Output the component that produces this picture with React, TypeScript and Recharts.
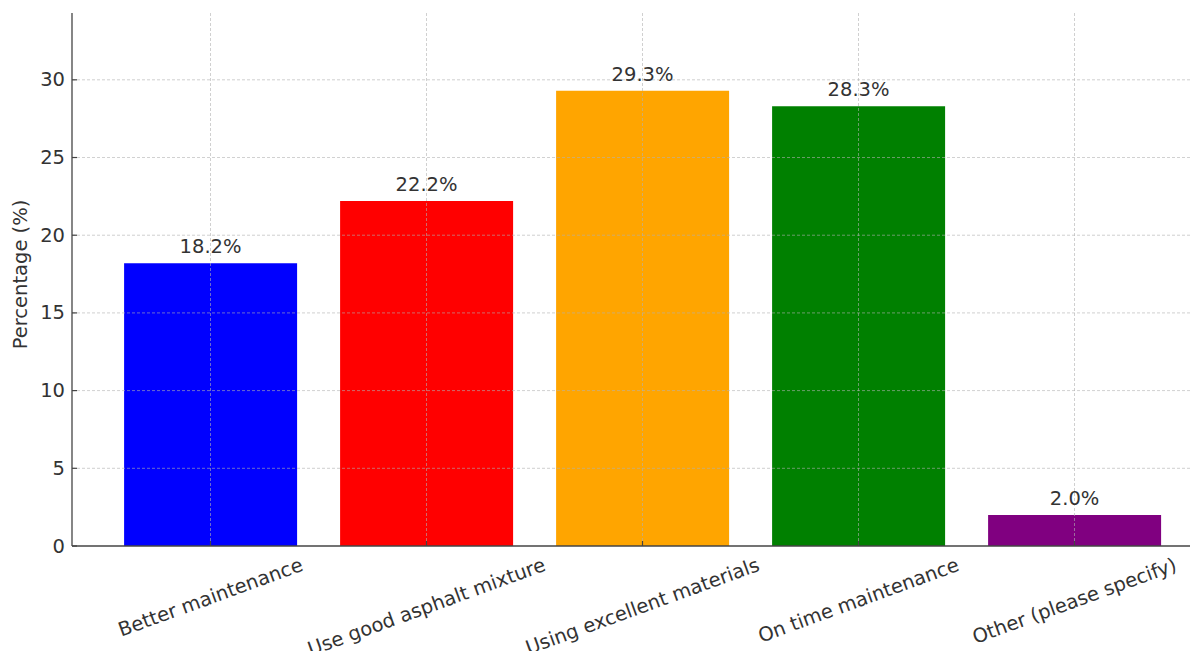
import React from 'react';
import { BarChart, Bar, XAxis, YAxis, Cell, LabelList, ReferenceLine } from 'recharts';

const categories = [
  'Better maintenance',
  'Use good asphalt mixture',
  'Using excellent materials',
  'On time maintenance',
  'Other (please specify)',
];
const percentages = [18.2, 22.2, 29.3, 28.3, 2.0];
const barColors = ['#0000ff', '#ff0000', '#ffa500', '#008000', '#800080'];
const yTicks = [0, 5, 10, 15, 20, 25, 30];
const yMax = 34.3;

const data = categories.map((c, i) => ({ category: c, value: percentages[i] }));

const FONT = 19.5;
const FAMILY = '"DejaVu Sans", sans-serif';
const TEXT = '#333333';
const SPINE = '#444444';
const GRID = '#b0b0b0';

let ctx: CanvasRenderingContext2D | null = null;
function measure(t: string): number {
  if (!ctx) ctx = document.createElement('canvas').getContext('2d');
  if (!ctx) return t.length * FONT * 0.6;
  ctx.font = `${FONT}px "DejaVu Sans"`;
  return ctx.measureText(t).width;
}

const ANG = (20 * Math.PI) / 180;

const XTick = (props: any) => {
  const { x, y, payload } = props;
  const w = measure(String(payload.value));
  const h = FONT * 1.1;
  const H = w * Math.sin(ANG) + h * Math.cos(ANG);
  const cy = y + 8 + H / 2;
  return (
    <g>
      <line x1={x} x2={x} y1={y} y2={y - 5} stroke={SPINE} strokeWidth={1.2} />
      <text
        x={x}
        y={cy}
        textAnchor="middle"
        dominantBaseline="central"
        transform={`rotate(-20 ${x} ${cy})`}
        fill={TEXT}
        fontSize={FONT}
        fontFamily={FAMILY}
      >
        {payload.value}
      </text>
    </g>
  );
};

const YTick = (props: any) => {
  const { x, y, payload } = props;
  return (
    <g>
      <line x1={x} x2={x + 5} y1={y} y2={y} stroke={SPINE} strokeWidth={1.2} />
      <text
        x={x - 7}
        y={y}
        textAnchor="end"
        dominantBaseline="central"
        fill={TEXT}
        fontSize={FONT}
        fontFamily={FAMILY}
      >
        {payload.value}
      </text>
    </g>
  );
};

const YLabel = (props: any) => {
  const vb = props.viewBox || { x: 0, y: 0, width: 72, height: 533 };
  const cx = 20;
  const cy = vb.y + vb.height / 2 - 5;
  return (
    <text
      x={cx}
      y={cy}
      textAnchor="middle"
      dominantBaseline="central"
      transform={`rotate(-90 ${cx} ${cy})`}
      fill={TEXT}
      fontSize={FONT}
      fontFamily={FAMILY}
    >
      Percentage (%)
    </text>
  );
};

export default function App() {
  return (
    <div
      style={{
        position: 'absolute',
        left: 0,
        top: 0,
        width: 1190,
        height: 651,
        overflow: 'hidden',
        background: '#ffffff',
      }}
    >
      <BarChart
        width={1213}
        height={651}
        data={data}
        margin={{ top: 13, right: 0, bottom: 0, left: 0 }}
        barCategoryGap="10%"
      >
        <XAxis
          dataKey="category"
          type="category"
          height={105}
          padding={{ left: 30.5, right: 30.5 }}
          axisLine={{ stroke: SPINE, strokeWidth: 1.3 }}
          tickLine={false}
          tickSize={0}
          tickMargin={0}
          interval={0}
          tick={<XTick />}
        />
        <YAxis
          type="number"
          domain={[0, yMax]}
          ticks={yTicks}
          width={72}
          axisLine={{ stroke: SPINE, strokeWidth: 1.3 }}
          tickLine={false}
          tickSize={0}
          tickMargin={0}
          tick={<YTick />}
          label={{ content: (p: any) => <YLabel {...p} /> }}
        />
        <Bar dataKey="value" isAnimationActive={false}>
          {data.map((d, i) => (
            <Cell key={d.category} fill={barColors[i]} />
          ))}
          <LabelList
            dataKey="value"
            position="top"
            offset={10}
            formatter={(v: any) => `${Number(v).toFixed(1)}%`}
            fill={TEXT}
            fontSize={FONT}
            fontFamily={FAMILY}
          />
        </Bar>
        {yTicks
          .filter((t) => t > 0)
          .map((t) => (
            <ReferenceLine
              key={`h${t}`}
              y={t}
              stroke={GRID}
              strokeOpacity={0.6}
              strokeDasharray="3 2"
              strokeWidth={1}
            />
          ))}
        {categories.map((c) => (
          <ReferenceLine
            key={`v${c}`}
            x={c}
            stroke={GRID}
            strokeOpacity={0.6}
            strokeDasharray="3 2"
            strokeWidth={1}
          />
        ))}
      </BarChart>
    </div>
  );
}
